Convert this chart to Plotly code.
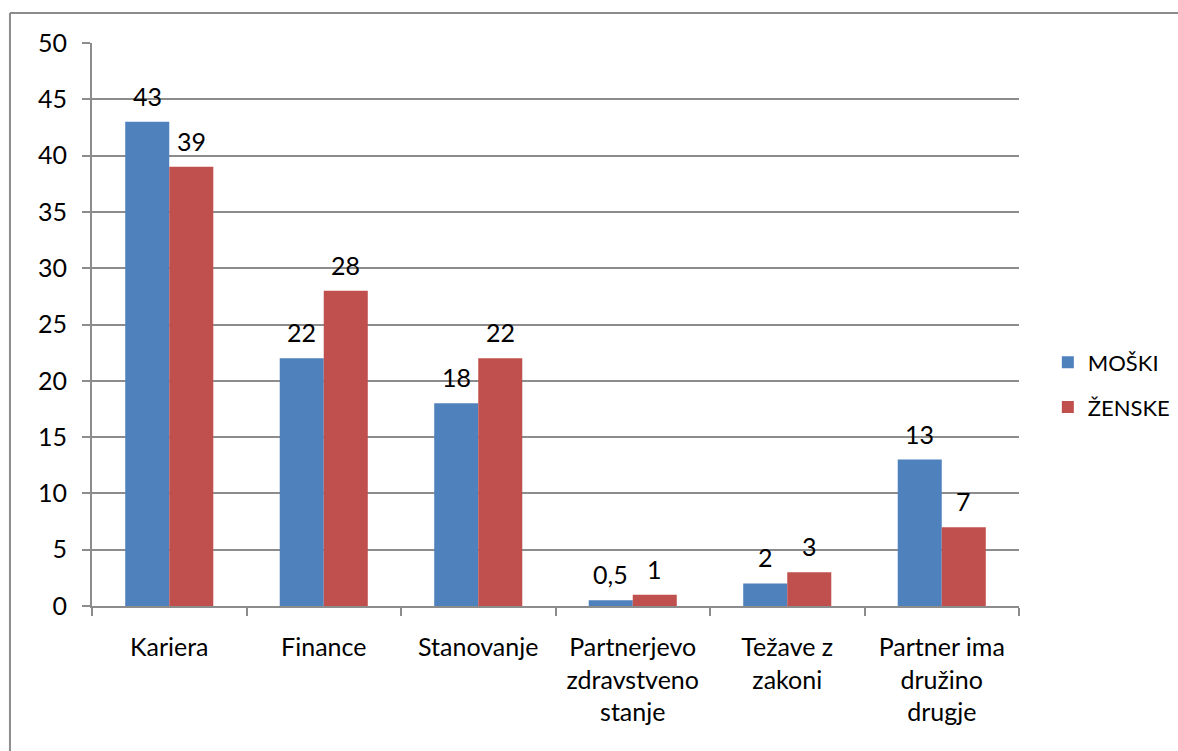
import plotly.graph_objects as go

categories = ["Kariera", "Finance", "Stanovanje",
              "Partnerjevo<br>zdravstveno<br>stanje",
              "Težave z<br>zakoni",
              "Partner ima<br>družino<br>drugje"]
moski = [43, 22, 18, 0.5, 2, 13]
zenske = [39, 28, 22, 1, 3, 7]
series_names = ["MOŠKI", "ŽENSKE"]
colors = ["#4F81BD", "#C0504D"]

FONT = dict(family="Lato", size=25, color="#000000")
LEGEND_FONT = dict(family="Lato", size=22, color="#000000")


def fmt(v):
    s = ("%g" % v)
    return s.replace(".", ",")


fig = go.Figure()
for name, vals, col, grp in zip(series_names, [moski, zenske], colors, ["a", "b"]):
    fig.add_trace(go.Bar(
        x=categories, y=vals, name=name, marker=dict(color=col, line=dict(width=0)),
        legendgroup=grp,
    ))

# data labels above bars
bar_half = 22
for vals, shift in [(moski, -bar_half), (zenske, bar_half)]:
    for c, v in zip(categories, vals):
        fig.add_annotation(x=c, y=v, text=fmt(v), showarrow=False,
                           xref="x", yref="y", xshift=shift, yshift=9,
                           yanchor="bottom", font=FONT)

# outer chart border: only top and left edges fall inside the picture
BORDER = dict(color="#8c8c8c", width=2)
fig.add_shape(type="line", xref="paper", yref="paper",
              x0=-0.0885, x1=1.3, y0=1.0533, y1=1.0533, line=BORDER, layer="below")
fig.add_shape(type="line", xref="paper", yref="paper",
              x0=-0.0885, x1=-0.0885, y0=1.0533, y1=-0.4, line=BORDER, layer="below")

fig.update_layout(
    width=1178, height=751,
    margin=dict(l=92, r=159, t=43, b=145),
    paper_bgcolor="white", plot_bgcolor="white",
    barmode="group", bargap=0.43, bargroupgap=0,
    font=FONT,
    showlegend=True,
    legend=dict(xref="container", yref="container", x=0.8895, y=0.4873,
                xanchor="left", yanchor="middle", font=LEGEND_FONT,
                tracegroupgap=13, bgcolor="rgba(0,0,0,0)"),
    xaxis=dict(type="category", tickson="boundaries", ticks="outside", ticklen=8,
               tickcolor="#8c8c8c", tickwidth=2, showline=True, linecolor="#8c8c8c",
               linewidth=2, showgrid=False, tickfont=FONT, ticklabelstandoff=18,
               mirror=False),
    yaxis=dict(range=[0, 50], dtick=5, tick0=0, ticks="outside", ticklen=8,
               tickcolor="#8c8c8c", tickwidth=2, showline=True, linecolor="#8c8c8c",
               linewidth=2, showgrid=True, gridcolor="#8c8c8c", gridwidth=1.5,
               zeroline=False, tickfont=FONT, ticklabelstandoff=10),
)

fig.write_html("out.html", config={"displayModeBar": False},
               post_script="document.body.style.margin='0';")
